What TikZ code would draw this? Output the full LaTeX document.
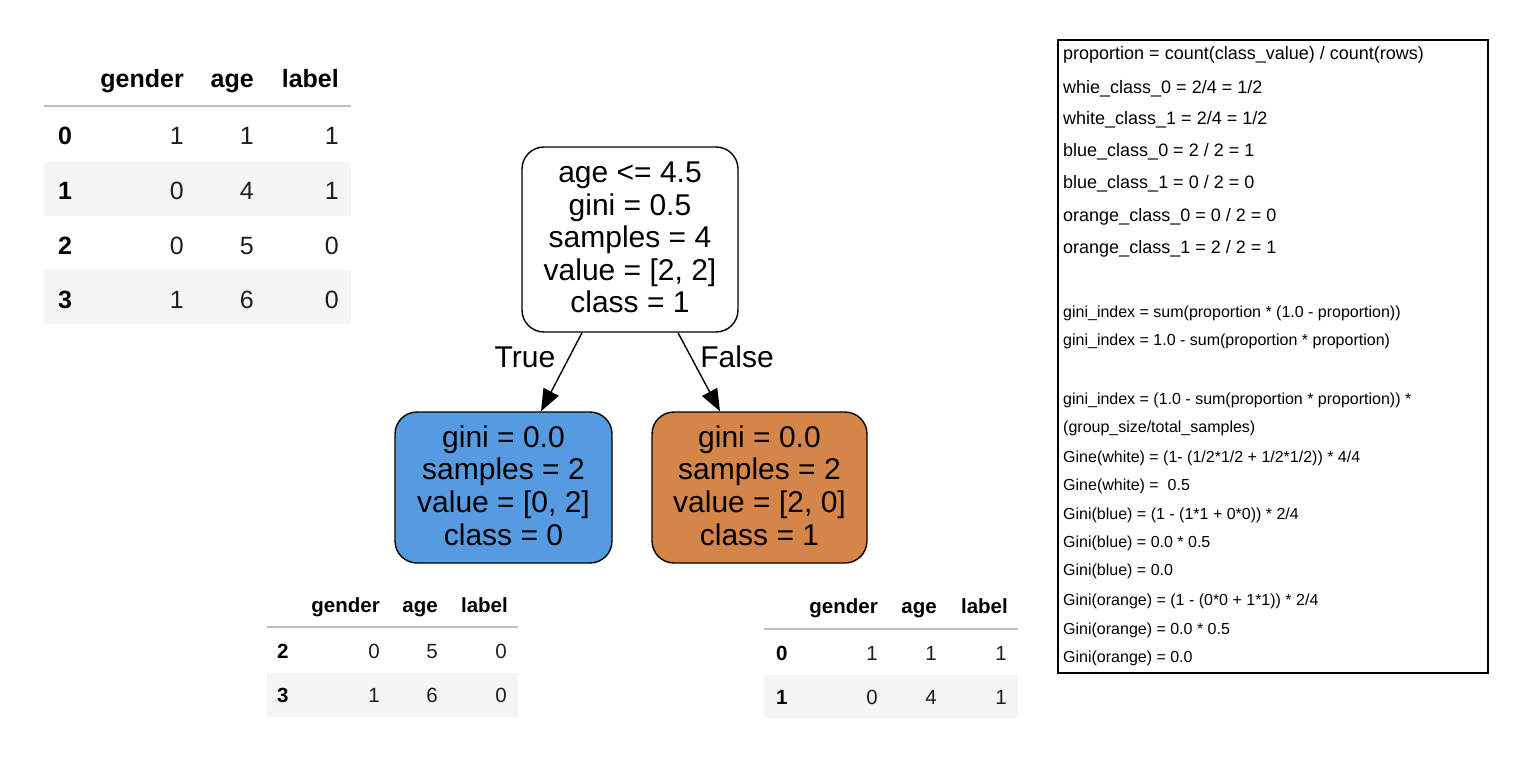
\documentclass[tikz,border=0pt]{standalone}
\usepackage{fontspec}
\setmainfont{Liberation Sans}
\usetikzlibrary{arrows.meta}
\definecolor{blueleaf}{RGB}{86,155,225}
\definecolor{orangeleaf}{RGB}{214,133,73}
\definecolor{rowshade}{RGB}{245,245,245}
\definecolor{headline}{RGB}{189,189,189}
\definecolor{numcol}{RGB}{30,30,30}
\begin{document}
\begin{tikzpicture}[x=1pt,y=-1pt,
  tnode/.style={draw=black, line width=1.4pt, rounded corners=22pt, inner sep=0pt},
  ttext/.style={align=center, inner sep=0pt, font=\fontsize{30}{32.6}\selectfont},
  edgelabel/.style={inner sep=0pt, font=\fontsize{30}{33}\selectfont},
  arr/.style={-{Triangle[length=22pt,width=17pt]}, line width=1.4pt},
  hdA/.style={anchor=base east, inner sep=0pt, font=\fontsize{25}{30}\selectfont\bfseries},
  idxA/.style={anchor=base west, inner sep=0pt, font=\fontsize{25}{30}\selectfont\bfseries},
  numA/.style={anchor=base east, inner sep=0pt, text=numcol, font=\fontsize{25}{30}\selectfont},
  hdB/.style={anchor=base east, inner sep=0pt, font=\fontsize{20.5}{24}\selectfont\bfseries},
  idxB/.style={anchor=base west, inner sep=0pt, font=\fontsize{20.5}{24}\selectfont\bfseries},
  numB/.style={anchor=base east, inner sep=0pt, text=numcol, font=\fontsize{20.5}{24}\selectfont},
  hline/.style={draw=headline, line width=2pt},
  big/.style={anchor=base west, inner sep=0pt, font=\fontsize{18}{22}\selectfont},
  small/.style={anchor=base west, inner sep=0pt, font=\fontsize{16}{20}\selectfont}
]
\useasboundingbox (0,0) rectangle (1528,765);
\fill[white] (0,0) rectangle (1528,765);

% ---------- top-left table ----------
\fill[rowshade] (44,162) rectangle (351,216);
\fill[rowshade] (44,270) rectangle (351,324);
\draw[hline] (44,106.5) -- (351,106.5);
\node[hdA] (aHg) at (184,88) {gender};
\node[hdA] (aHa) at (254,88) {age};
\node[hdA] (aHl) at (339,88) {label};
\foreach \i/\g/\a/\l/\y in {0/1/1/1/145, 1/0/4/1/199.5, 2/0/5/0/254, 3/1/6/0/308}{
  \node[idxA] (aI\i) at (58,\y) {\i};
  \node[numA] (aG\i) at (184,\y) {\g};
  \node[numA] (aA\i) at (254,\y) {\a};
  \node[numA] (aL\i) at (339,\y) {\l};
}

% ---------- tree ----------
\node[tnode, fill=white, minimum width=216pt, minimum height=185pt] (root) at (630,239.5) {};
\node[tnode, fill=blueleaf, minimum width=217pt, minimum height=151pt] (blue) at (503.5,487.5) {};
\node[tnode, fill=orangeleaf, minimum width=215pt, minimum height=151pt] (orange) at (759.5,487.5) {};
\node[ttext] (rootT) at (630,237.5) {age <= 4.5\\gini = 0.5\\samples = 4\\value = [2, 2]\\class = 1};
\node[ttext] (blueT) at (503.5,485.5) {gini = 0.0\\samples = 2\\value = [0, 2]\\class = 0};
\node[ttext] (orangeT) at (759.5,485.5) {gini = 0.0\\samples = 2\\value = [2, 0]\\class = 1};
\draw[arr] ([xshift=-48pt]root.south) -- ([xshift=37.5pt]blue.north);
\draw[arr] ([xshift=48pt]root.south) -- ([xshift=-39.5pt]orange.north);
\node[edgelabel] (trueL) at (525,357) {True};
\node[edgelabel] (falseL) at (737,357) {False};

% ---------- bottom-left table ----------
\fill[rowshade] (267,673) rectangle (518,717);
\draw[hline] (267,627) -- (518,627);
\node[hdB] (bHg) at (380,612) {gender};
\node[hdB] (bHa) at (438,612) {age};
\node[hdB] (bHl) at (508,612) {label};
\foreach \i/\g/\a/\l/\y in {2/0/5/0/658, 3/1/6/0/702}{
  \node[idxB] (bI\i) at (277,\y) {\i};
  \node[numB] (bG\i) at (380,\y) {\g};
  \node[numB] (bA\i) at (438,\y) {\a};
  \node[numB] (bL\i) at (507,\y) {\l};
}

% ---------- bottom-right table ----------
\fill[rowshade] (764,675) rectangle (1018,718);
\draw[hline] (764,629) -- (1018,629);
\node[hdB] (cHg) at (878,613) {gender};
\node[hdB] (cHa) at (937,613) {age};
\node[hdB] (cHl) at (1008,613) {label};
\foreach \i/\g/\a/\l/\y in {0/1/1/1/660, 1/0/4/1/704}{
  \node[idxB] (cI\i) at (776,\y) {\i};
  \node[numB] (cG\i) at (878,\y) {\g};
  \node[numB] (cA\i) at (937,\y) {\a};
  \node[numB] (cL\i) at (1007,\y) {\l};
}

% ---------- right formula box ----------
\node[draw=black, line width=1.3pt, inner sep=0pt, minimum width=430pt, minimum height=633pt] (calc) at (1273,356.5) {};
\node[big] (f1) at (1063,59.8) {proportion = count(class\_value) / count(rows)};
\node[big] (f2) at (1063,93.2) {whie\_class\_0 = 2/4 = 1/2};
\node[big] (f3) at (1063,124.8) {white\_class\_1 = 2/4 = 1/2};
\node[big] (f4) at (1063,156.5) {blue\_class\_0 = 2 / 2 = 1};
\node[big] (f5) at (1063,188.2) {blue\_class\_1 = 0 / 2 = 0};
\node[big] (f6) at (1063,221.5) {orange\_class\_0 = 0 / 2 = 0};
\node[big] (f7) at (1063,253.2) {orange\_class\_1 = 2 / 2 = 1};
\node[small] (g1) at (1063,317.4) {gini\_index = sum(proportion * (1.0 - proportion))};
\node[small] (g2) at (1063,345.7) {gini\_index = 1.0 - sum(proportion * proportion)};
\node[small] (g3) at (1063,404) {gini\_index = (1.0 - sum(proportion * proportion)) *};
\node[small] (g4) at (1063,432.4) {(group\_size/total\_samples)};
\node[small] (g5) at (1063,462.4) {Gine(white) = (1- (1/2*1/2 + 1/2*1/2)) * 4/4};
\node[small] (g6) at (1063,490.7) {Gine(white) = \ 0.5};
\node[small] (g7) at (1063,519) {Gini(blue) = (1 - (1*1 + 0*0)) * 2/4};
\node[small] (g8) at (1063,547.4) {Gini(blue) = 0.0 * 0.5};
\node[small] (g9) at (1063,575.7) {Gini(blue) = 0.0};
\node[small] (g10) at (1063,605) {Gini(orange) = (1 - (0*0 + 1*1)) * 2/4};
\node[small] (g11) at (1063,634) {Gini(orange) = 0.0 * 0.5};
\node[small] (g12) at (1063,662.4) {Gini(orange) = 0.0};
\end{tikzpicture}
\end{document}
